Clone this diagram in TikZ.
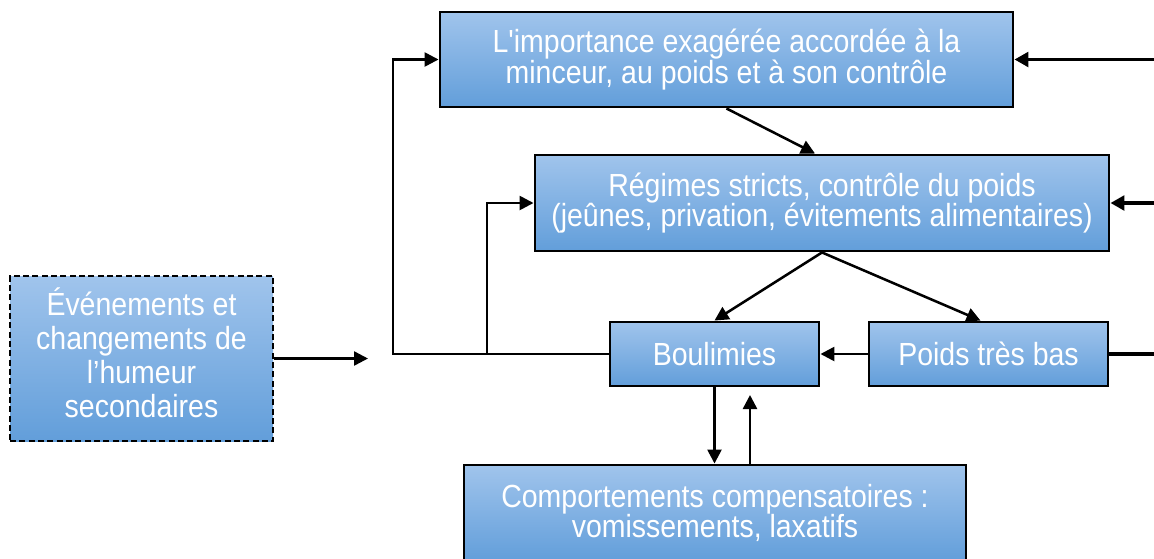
\documentclass[tikz,border=0pt]{standalone}
\usepackage{fontspec}
\setmainfont[FakeStretch=0.89,Ligatures=TeXOff]{Liberation Sans}
\usetikzlibrary{arrows.meta,calc}
\definecolor{boxtop}{RGB}{160,196,236}
\definecolor{boxbot}{RGB}{98,158,218}
\newcommand{\px}{0.75pt}
\begin{document}
\begin{tikzpicture}[x=0.75pt,y=-0.75pt,
  box/.style={draw=black, line width=2.2pt, top color=boxtop, bottom color=boxbot,
    text=white, align=center, inner sep=0pt, font=\fontsize{24}{23}\selectfont},
  boxtext/.style={text=white, align=center, inner sep=0pt, font=\fontsize{24}{25.5}\selectfont},
  arr/.style={line width=1.9pt, -{Triangle[length=10.5pt,width=10.5pt]}},
  thickconn/.style={line width=2.8pt},
  thickarr/.style={line width=2.8pt, -{Triangle[length=10.5pt,width=11pt]}}]
\useasboundingbox (0,0) rectangle (1154,558);
\clip (0,0) rectangle (1154,558);

\node[box, minimum width=573*\px, minimum height=95*\px] (top) at (726.5,59.5)
  {L'importance exagérée accordée à la\\minceur, au poids et à son contrôle};
\node[box, minimum width=574*\px, minimum height=96*\px] (reg) at (822,203)
  {Régimes stricts, contrôle du poids\\(jeûnes, privation, évitements alimentaires)};
\node[box, minimum width=209*\px, minimum height=64*\px] (boul) at (714.5,354) {Boulimies};
\node[box, minimum width=239*\px, minimum height=64*\px] (poids) at (988.5,354) {Poids très bas};
\node[box, minimum width=502*\px, minimum height=96*\px] (comp) at (715,513)
  {Comportements compensatoires :\\vomissements, laxatifs};
\node[box, dash pattern=on 4.5pt off 2.5pt, minimum width=263*\px, minimum height=165*\px] (ev) at (141.5,358.5) {};
\node[boxtext] (evtext) at ($(ev.center)+(0,-6)$)
  {Événements et\\changements de\\l’humeur\\secondaires};

\coordinate (jl) at (393,354);
\coordinate (jb) at (487,354);
\coordinate (evend) at (368,358.5);
\coordinate (upend) at (750,395);
\coordinate (redge) at (1160,354);

\draw[arr] (top.south) -- ($(reg.north)+(-7,0)$);
\draw[arr] (reg.south) -- (boul.north);
\draw[arr] (reg.south) -- ($(poids.north)+(-8,0)$);
\draw[arr] (poids.west) -- (boul.east);
\draw[arr] (boul.west) -- (jl) |- (top.west);
\draw[arr] (jb) |- (reg.west);
\draw[arr] (ev.east) -- (evend);
\draw[arr] (boul.south) -- (boul.south |- comp.north);
\draw[arr] (comp.north -| upend) -- (upend);
\draw[thickconn] (poids.east) -- (redge);
\draw[thickarr] (top.east -| redge) -- (top.east);
\draw[thickarr] (reg.east -| redge) -- (reg.east);
\end{tikzpicture}
\end{document}
